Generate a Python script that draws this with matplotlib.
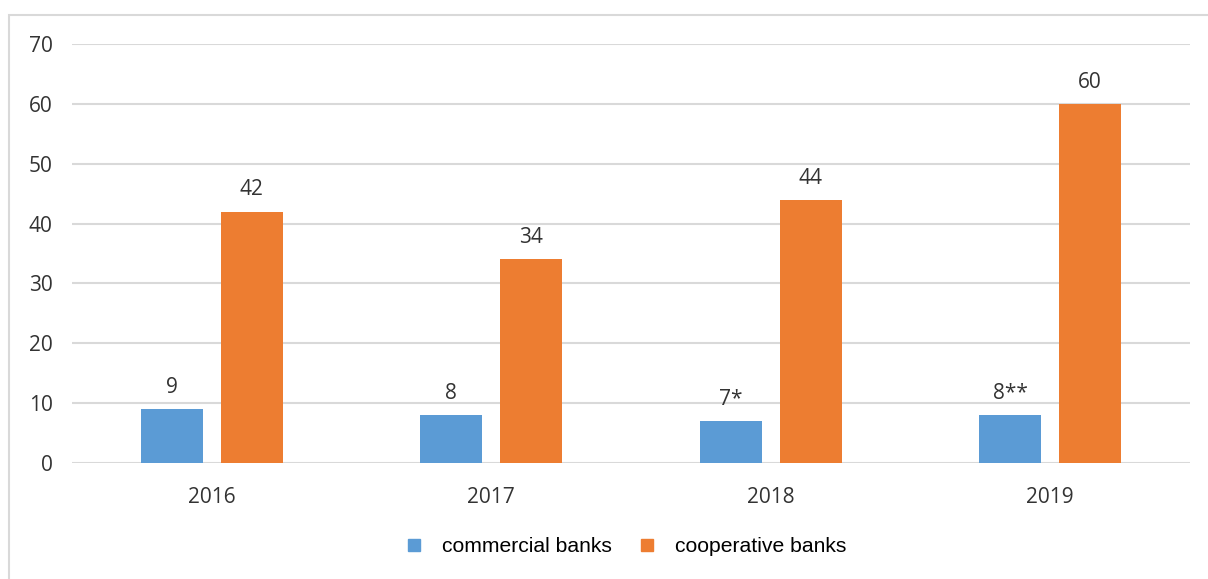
import matplotlib.pyplot as plt
from matplotlib.patches import Rectangle
from matplotlib.lines import Line2D
import numpy as np

years = ["2016", "2017", "2018", "2019"]
commercial = [9, 8, 7, 8]
cooperative = [42, 34, 44, 60]
commercial_labels = ["9", "8", "7*", "8**"]
cooperative_labels = ["42", "34", "44", "60"]

blue = "#5B9BD5"
orange = "#ED7D31"
text_col = "#333333"
W, H = 1208, 579

fig = plt.figure(figsize=(W / 100, H / 100), dpi=100)
ax = fig.add_axes([72 / W, 1 - 463 / H, (1190 - 72) / W, (463 - 44) / H])

# outer chart border
fig.patches.append(Rectangle((9 / W, -0.05), 1.2, 1 - 15 / H + 0.05,
                             transform=fig.transFigure, fill=False,
                             edgecolor="#d9d9d9", linewidth=1.5))

x = np.arange(len(years))
bw = 0.222
off = 0.143
b1 = ax.bar(x - off, commercial, bw, color=blue, zorder=3)
b2 = ax.bar(x + off, cooperative, bw, color=orange, zorder=3)

for bars, labels in ((b1, commercial_labels), (b2, cooperative_labels)):
    for rect, lab in zip(bars, labels):
        ax.annotate(lab, (rect.get_x() + rect.get_width() / 2, rect.get_height()),
                    xytext=(0, 8), textcoords="offset points", ha="center",
                    va="bottom", fontsize=15, family="Open Sans", color=text_col)

ax.set_xlim(-0.5, 3.5)
ax.set_ylim(0, 70)
ax.set_yticks(range(0, 71, 10))
ax.set_xticks(x)
ax.set_xticklabels(years)
ax.grid(axis="y", color="#d9d9d9", linewidth=1.5, zorder=0)
for s in ax.spines.values():
    s.set_visible(False)
ax.tick_params(length=0, labelsize=15, colors=text_col)
ax.tick_params(axis="y", pad=14)
ax.tick_params(axis="x", pad=17)
for t in ax.get_xticklabels() + ax.get_yticklabels():
    t.set_family("Open Sans")

handles = [Line2D([], [], marker="s", linestyle="none", markersize=8, color=blue),
           Line2D([], [], marker="s", linestyle="none", markersize=8, color=orange)]
fig.legend(handles, ["commercial banks", "cooperative banks"], loc="center",
           bbox_to_anchor=(625 / W, 1 - 547 / H), ncol=2, frameon=False,
           prop={"family": "Liberation Sans", "size": 15.2},
           handletextpad=0.8, columnspacing=1.2, handlelength=1.0)

fig.savefig("out.png", dpi=100)
